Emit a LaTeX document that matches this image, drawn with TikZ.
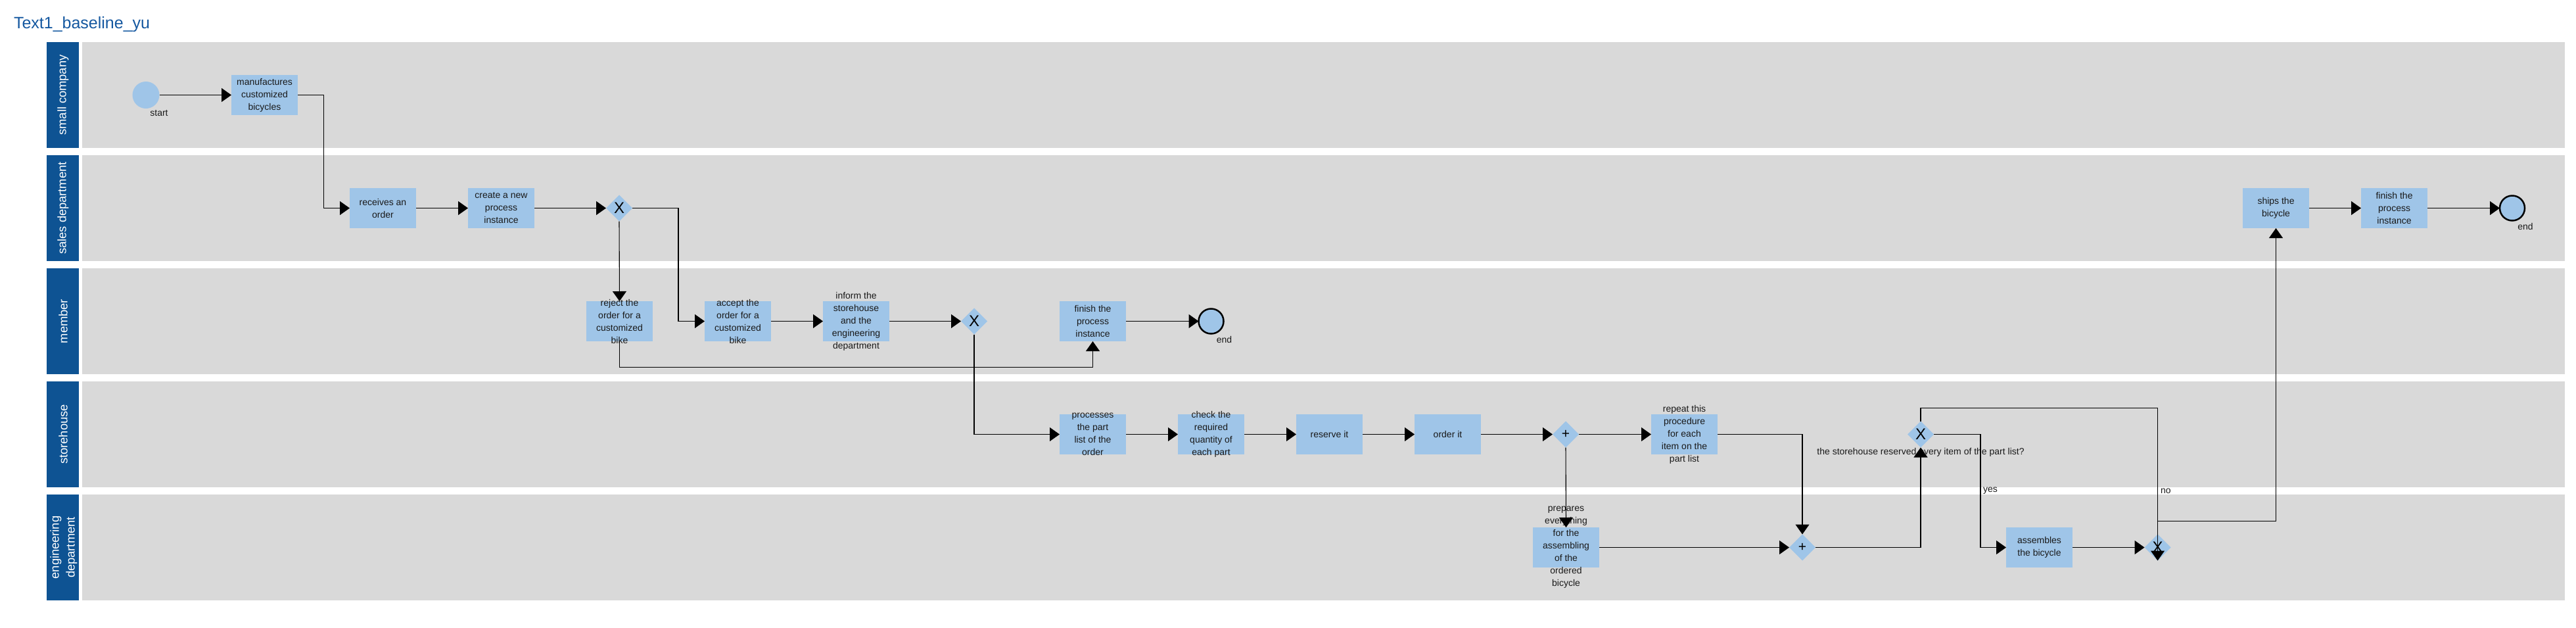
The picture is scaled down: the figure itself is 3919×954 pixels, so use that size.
\documentclass[tikz,border=0pt]{standalone}
\usepackage{fontspec}
\setmainfont{Liberation Sans}
\usetikzlibrary{arrows.meta,shapes.geometric,calc}
\definecolor{lanebar}{HTML}{0E5393}
\definecolor{lanefill}{HTML}{D9D9D9}
\definecolor{taskfill}{HTML}{9FC5E8}
\definecolor{titleblue}{HTML}{1558A0}
\begin{document}
\begin{tikzpicture}[x=1pt,y=-1pt,
  every node/.style={inner sep=0pt, outer sep=0pt},
  task/.style={rectangle, fill=taskfill, minimum width=101pt, minimum height=61pt},
  tasktext/.style={align=center, font=\fontsize{14}{19}\selectfont, text=black!90},
  gw/.style={diamond, fill=taskfill, minimum width=40pt, minimum height=40pt, font=\fontsize{24}{24}\selectfont},
  pgw/.style={gw, font=\fontsize{21}{21}\selectfont},
  startev/.style={circle, fill=taskfill, minimum size=41pt},
  endev/.style={circle, fill=taskfill, draw=black, line width=2.5pt, minimum size=38pt},
  evlabel/.style={font=\fontsize{14}{14}\selectfont, text=black!90, xshift=20pt, yshift=-27.5pt},
  flow/.style={draw=black, line width=1.1pt, -{Triangle[length=15pt,width=21pt]}},
  lanetitle/.style={rotate=90, text=white, font=\fontsize{18.3}{24}\selectfont, align=center},
  edgelabel/.style={font=\fontsize{14}{14}\selectfont, text=black!90, anchor=west},
  qlabel/.style={font=\fontsize{14}{14}\selectfont, text=black!90}
]
\useasboundingbox (0,0) rectangle (3919,954);

% title
\node[anchor=base west, font=\fontsize{25}{25}\selectfont, text=titleblue] (title) at (21,43) {Text1\_baseline\_yu};

% lanes
\foreach \i/\yt in {1/64,2/236,3/408,4/580,5/752}{
  \fill[lanebar] (71,\yt) rectangle (120,\yt+161);
  \fill[lanefill] (125,\yt) rectangle (3902,\yt+161);
}
\node[lanetitle] (lane1) at (96,144.5) {small company};
\node[lanetitle] (lane2) at (96,316.5) {sales department};
\node[lanetitle] (lane3) at (96,488.5) {member};
\node[lanetitle] (lane4) at (96,660.5) {storehouse};
\node[lanetitle] (lane5) at (97,832.5) {engineering\\department};

% small company
\node[startev, label={[evlabel]center:start}] (start) at (222,144.5) {};
\node[task, label={[tasktext]center:{manufactures\\customized\\bicycles}}] (t1) at (402.5,144.5) {};

% sales department
\node[task, label={[tasktext]center:{receives an\\order}}] (t2) at (582.5,316.5) {};
\node[task, label={[tasktext]center:{create a new\\process\\instance}}] (t3) at (762.5,316.5) {};
\node[gw] (g1) at (942,316.5) {X};
\node[task, label={[tasktext]center:{ships the\\bicycle}}] (t15) at (3462.5,316.5) {};
\node[task, label={[tasktext]center:{finish the\\process\\instance}}] (t16) at (3642.5,316.5) {};
\node[endev, label={[evlabel]center:end}] (e2) at (3822,316.5) {};

% member
\node[task, label={[tasktext]center:{reject the\\order for a\\customized\\bike}}] (t4) at (942.5,488.5) {};
\node[task, label={[tasktext]center:{accept the\\order for a\\customized\\bike}}] (t5) at (1122.5,488.5) {};
\node[task, label={[tasktext]center:{inform the\\storehouse\\and the\\engineering\\department}}] (t6) at (1302.5,488.5) {};
\node[gw] (g2) at (1482,488.5) {X};
\node[task, label={[tasktext]center:{finish the\\process\\instance}}] (t7) at (1662.5,488.5) {};
\node[endev, label={[evlabel]center:end}] (e1) at (1842.5,488.5) {};

% storehouse
\node[task, label={[tasktext]center:{processes\\the part\\list of the\\order}}] (t8) at (1662.5,660.5) {};
\node[task, label={[tasktext]center:{check the\\required\\quantity of\\each part}}] (t9) at (1842.5,660.5) {};
\node[task, label={[tasktext]center:{reserve it}}] (t10) at (2022.5,660.5) {};
\node[task, label={[tasktext]center:{order it}}] (t11) at (2202.5,660.5) {};
\node[pgw] (g3) at (2382,660.5) {+};
\node[task, label={[tasktext]center:{repeat this\\procedure\\for each\\item on the\\part list}}] (t12) at (2562.5,660.5) {};
\node[gw] (g5) at (2922,660.5) {X};
\node[qlabel] (lq) at (2922,688) {the storehouse reserved every item of the part list?};

% engineering department
\node[task, label={[tasktext]center:{prepares\\everything\\for the\\assembling\\of the\\ordered\\bicycle}}] (t13) at (2382.5,832.5) {};
\node[pgw] (g4) at (2742,832.5) {+};
\node[task, label={[tasktext]center:{assembles\\the bicycle}}] (t14) at (3102.5,832.5) {};
\node[gw] (g6) at (3282.5,832.5) {X};

% edge labels
\node[edgelabel] (lyes) at (3017,746.5) {yes};
\node[edgelabel] (lno) at (3287,746.5) {no};

% flows
\draw[flow] (start) -- (t1);
\draw[flow] (t1.east) -- ++(39.5,0) |- (t2.west);
\draw[flow] (t2) -- (t3);
\draw[flow] (t3) -- (g1.west);
\draw[flow] (g1.south) -- (t4.north);
\draw[flow] (g1.east) -- ++(70,0) |- (t5.west);
\draw[flow] (t5) -- (t6);
\draw[flow] (t6) -- (g2.west);
\draw[flow] (t4.south) -- ++(0,39.5) -| (t7.south);
\draw[flow] (t7) -- (e1);
\draw[flow] (g2.south) |- (t8.west);
\draw[flow] (t8) -- (t9);
\draw[flow] (t9) -- (t10);
\draw[flow] (t10) -- (t11);
\draw[flow] (t11) -- (g3.west);
\draw[flow] (g3.east) -- (t12.west);
\draw[flow] (g3.south) -- (t13.north);
\draw[flow] (t12.east) -| (g4.north);
\draw[flow] (t13.east) -- (g4.west);
\draw[flow] (g4.east) -| (g5.south);
\draw[flow] (g5.east) -- ++(71,0) |- (t14.west);
\draw[flow] (g5.north) -- ++(0,-20) -| (g6.south);
\draw[flow] (t14.east) -- (g6.west);
\draw[flow] (g6.north) -- ++(0,-20) -| (t15.south);
\draw[flow] (t15) -- (t16);
\draw[flow] (t16) -- (e2);
\end{tikzpicture}
\end{document}
